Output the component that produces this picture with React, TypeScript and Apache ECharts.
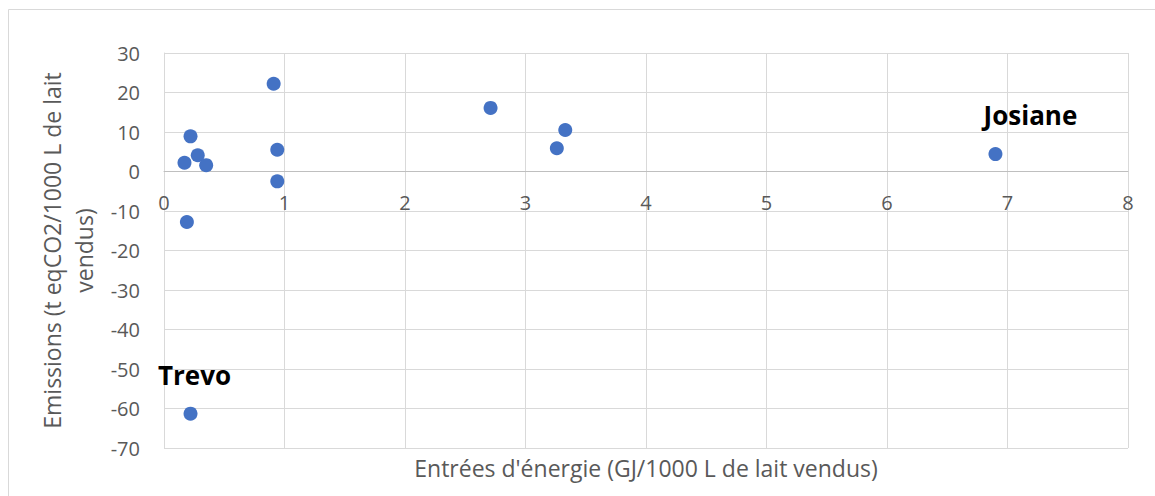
import React, { useEffect, useRef } from "react";
import * as echarts from "echarts";

const xValues = [0.17, 0.22, 0.28, 0.35, 0.19, 0.22, 0.91, 0.94, 0.94, 2.71, 3.26, 3.33, 6.9];
const yValues = [2.2, 8.9, 4.1, 1.6, -12.8, -61.3, 22.2, 5.5, -2.5, 16.1, 5.9, 10.5, 4.4];
const pointNames = ["", "", "", "", "", "Trevo", "", "", "", "", "", "", "Josiane"];
const labelOffsets: Record<string, number[]> = { Trevo: [4, -39], Josiane: [35, -39] };

const xTitle = "Entrées d'énergie (GJ/1000 L de lait vendus)";
const yTitle = "Emissions (t eqCO2/1000 L de lait\nvendus)";

export default function App() {
  const ref = useRef<HTMLDivElement>(null);
  useEffect(() => {
    if (!ref.current) return;
    const chart = echarts.init(ref.current, undefined, { renderer: "svg" });
    const font = "'Open Sans', Calibri, sans-serif";
    const gridTop = 53;
    const gridBottomPx = 448;
    const zeroY = gridTop + (gridBottomPx - gridTop) * 0.3;
    const xOffset = -(gridBottomPx - zeroY);
    const data = xValues.map((x, i) => {
      const name = pointNames[i];
      const item: any = { value: [x, yValues[i]], name };
      if (name) {
        item.label = {
          show: true,
          formatter: name,
          position: "inside",
          offset: labelOffsets[name],
          fontFamily: font,
          fontWeight: "bold",
          fontSize: 26,
          color: "#000000",
        };
      }
      return item;
    });
    chart.setOption({
      animation: false,
      backgroundColor: "#ffffff",
      graphic: [
        {
          type: "rect",
          shape: { x: 8.5, y: 9.5, width: 1200, height: 600 },
          style: { fill: "none", stroke: "#d9d9d9", lineWidth: 1 },
          silent: true,
        },
      ],
      grid: {
        left: 164,
        right: 27,
        top: gridTop,
        bottom: 496 - gridBottomPx,
        containLabel: false,
        outerBoundsMode: "none",
      },
      xAxis: {
        type: "value",
        min: 0,
        max: 8,
        interval: 1,
        offset: xOffset,
        name: xTitle,
        nameLocation: "middle",
        nameGap: 8 - xOffset,
        nameTextStyle: { fontFamily: font, fontSize: 23, color: "#595959" },
        axisLine: { show: true, onZero: false, lineStyle: { color: "#bfbfbf", width: 1 } },
        axisTick: { show: false },
        axisLabel: { fontFamily: font, fontSize: 20, color: "#595959", margin: 21 },
        splitLine: { show: true, lineStyle: { color: "#d9d9d9", width: 1 } },
      },
      yAxis: {
        type: "value",
        min: -70,
        max: 30,
        interval: 10,
        name: yTitle,
        nameLocation: "middle",
        nameGap: 61,
        nameTextStyle: { fontFamily: font, fontSize: 23, color: "#595959", lineHeight: 32, align: "center" },
        axisLine: { show: true, onZero: false, lineStyle: { color: "#d9d9d9", width: 1 } },
        axisTick: { show: false },
        axisLabel: { fontFamily: font, fontSize: 20, color: "#595959", margin: 24 },
        splitLine: { show: true, lineStyle: { color: "#d9d9d9", width: 1 } },
      },
      series: [
        {
          type: "scatter",
          data,
          symbol: "circle",
          symbolSize: 14,
          itemStyle: { color: "#4472c4", opacity: 1 },
          label: { show: false },
        },
      ],
    });
    return () => chart.dispose();
  }, []);
  return (
    <div
      ref={ref}
      style={{ position: "absolute", left: 0, top: 0, width: 1155, height: 496 }}
    />
  );
}
